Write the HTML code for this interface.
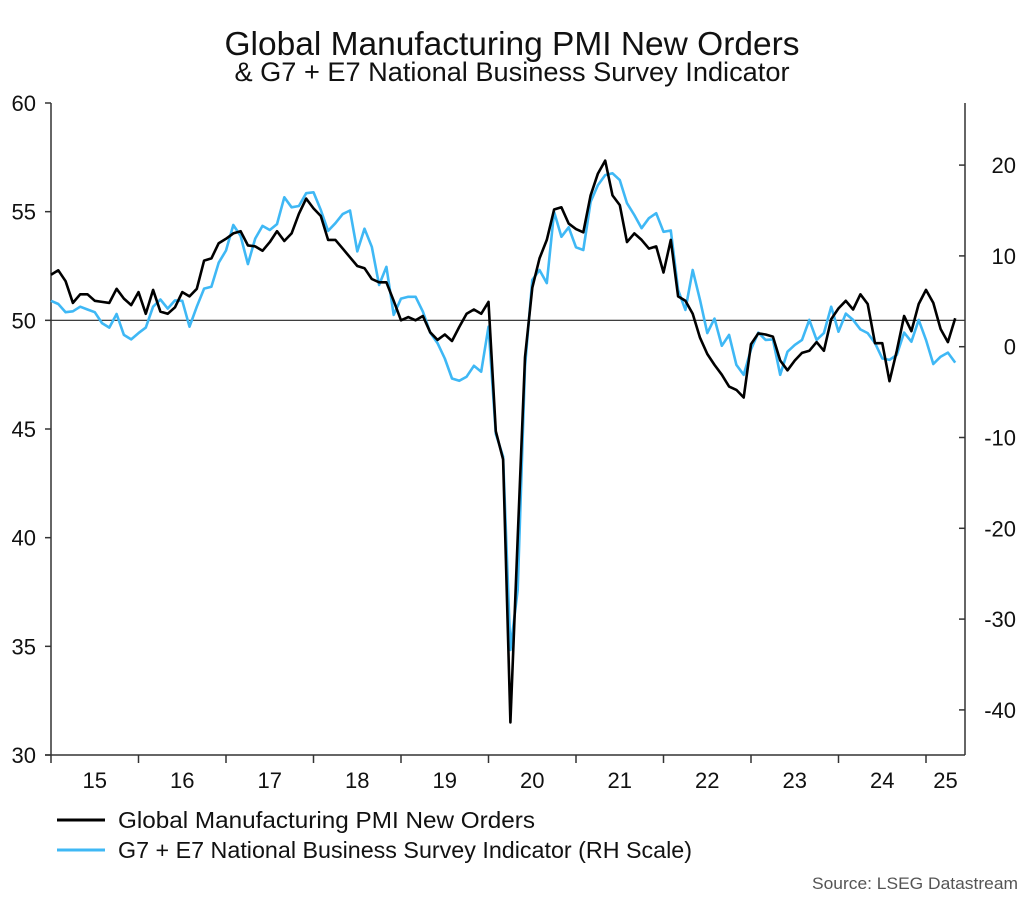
<!DOCTYPE html>
<html><head><meta charset="utf-8"><style>
body{margin:0;background:#fff;width:1024px;height:897px;overflow:hidden;font-family:"Liberation Sans",sans-serif}
</style></head><body>
<svg id="chart" width="1024" height="897" viewBox="0 0 1024 897" xmlns="http://www.w3.org/2000/svg" font-family="Liberation Sans, sans-serif">
<text x="512" y="55" text-anchor="middle" font-size="33" fill="#111" textLength="575" lengthAdjust="spacingAndGlyphs">Global Manufacturing PMI New Orders</text>
<text x="512" y="81" text-anchor="middle" font-size="27" fill="#111" textLength="555" lengthAdjust="spacingAndGlyphs">&amp; G7 + E7 National Business Survey Indicator</text>
<g id="axes"></g>
<g id="series"></g>
<line x1="57" y1="820" x2="105" y2="820" stroke="#000" stroke-width="3"/>
<text x="118" y="828" font-size="23" fill="#111" textLength="417" lengthAdjust="spacingAndGlyphs">Global Manufacturing PMI New Orders</text>
<line x1="57" y1="850" x2="105" y2="850" stroke="#3fb8f5" stroke-width="3"/>
<text x="118" y="858" font-size="23" fill="#111" textLength="574" lengthAdjust="spacingAndGlyphs">G7 + E7 National Business Survey Indicator (RH Scale)</text>
<text x="1018" y="889" text-anchor="end" font-size="17" fill="#555" textLength="206" lengthAdjust="spacingAndGlyphs">Source: LSEG Datastream</text>
</svg>
<script>
const years = ["15","16","17","18","19","20","21","22","23","24","25"];
const leftTicks = [30,35,40,45,50,55,60];
const rightTicks = [-40,-30,-20,-10,0,10,20];
const pmiNewOrders = [52.1,52.3,51.8,50.8,51.2,51.2,50.9,50.85,50.8,51.45,51.0,50.7,51.3,50.3,51.4,50.4,50.3,50.6,51.3,51.1,51.45,52.75,52.85,53.55,53.75,54.0,54.1,53.45,53.4,53.2,53.6,54.1,53.65,54.0,54.9,55.6,55.15,54.8,53.7,53.7,53.3,52.9,52.5,52.4,51.9,51.75,51.75,50.9,50.0,50.15,50.0,50.2,49.45,49.1,49.35,49.05,49.7,50.3,50.5,50.3,50.85,44.9,43.6,31.5,40.0,48.3,51.5,52.85,53.7,55.1,55.2,54.45,54.2,54.05,55.75,56.75,57.35,55.75,55.3,53.6,54.0,53.7,53.3,53.4,52.2,53.7,51.1,50.9,50.3,49.2,48.45,47.95,47.5,46.95,46.8,46.45,48.9,49.4,49.35,49.25,48.15,47.7,48.15,48.5,48.6,49.0,48.6,50.05,50.55,50.9,50.5,51.2,50.75,48.95,48.95,47.2,48.6,50.2,49.5,50.75,51.4,50.8,49.6,49.0,50.1];
const surveyIndicator = [5.05,4.7,3.8,3.9,4.4,4.1,3.8,2.6,2.1,3.6,1.3,0.8,1.5,2.1,4.4,5.2,4.2,5.1,5.05,2.2,4.4,6.4,6.6,9.25,10.6,13.4,12.2,9.1,11.9,13.3,12.85,13.5,16.45,15.35,15.5,16.9,17.0,15.05,12.75,13.6,14.6,15.0,10.5,13.0,11.0,6.8,8.8,3.5,5.3,5.5,5.5,3.85,1.55,0.4,-1.3,-3.5,-3.75,-3.3,-2.1,-2.75,2.2,-9.6,-12.1,-33.4,-26.8,-2.2,7.35,8.45,7.0,14.85,12.1,13.15,10.95,10.65,15.95,17.8,18.9,19.1,18.35,15.8,14.5,13.05,14.15,14.7,12.65,12.8,6.25,4.05,8.45,5.15,1.5,3.1,0.1,1.3,-2.0,-3.1,-0.3,1.55,0.75,0.8,-3.1,-0.55,0.2,0.75,2.95,0.75,1.5,4.4,1.65,3.65,2.95,1.9,1.5,0.4,-1.3,-1.45,-0.9,1.55,0.55,2.95,0.75,-1.9,-1.1,-0.65,-1.75];

const NS="http://www.w3.org/2000/svg";
const L=51,R=965,T=103,B=755;
const x0=51, monthW=87.5/12;
function xScale(i){return x0+i*monthW;}
function yLeft(v){return B-(v-30)*(B-T)/30;}
function yRight(v){return 346.7-v*9.08;}
function mk(tag,attrs,parent){const e=document.createElementNS(NS,tag);for(const k in attrs)e.setAttribute(k,attrs[k]);parent.appendChild(e);return e;}
const axes=document.getElementById('axes'), series=document.getElementById('series');

let e=mk('line',{x1:L,y1:yLeft(50),x2:R,y2:yLeft(50),stroke:'#222','stroke-width':1.2},axes);


e=mk('line',{x1:L,y1:T,x2:L,y2:B,stroke:'#333','stroke-width':1.5},axes);


e=mk('line',{x1:R,y1:T,x2:R,y2:B,stroke:'#333','stroke-width':1.5},axes);


e=mk('line',{x1:45,y1:B,x2:R,y2:B,stroke:'#333','stroke-width':1.5},axes);



leftTicks.forEach(v=>{
  const y=yLeft(v);
  mk('line',{x1:45,y1:y,x2:L,y2:y,stroke:'#333','stroke-width':1.5},axes);
  const t=mk('text',{x:36,y:y+8,'text-anchor':'end','font-size':22,fill:'#111'},axes);
  t.textContent=v;
  
  
});
rightTicks.forEach(v=>{
  const y=yRight(v);
  mk('line',{x1:R-6,y1:y,x2:R,y2:y,stroke:'#333','stroke-width':1.5},axes);
  const t=mk('text',{x:1016,y:y+8,'text-anchor':'end','font-size':22,fill:'#111'},axes);
  t.textContent=v;
  
  
});
years.forEach((yr,k)=>{
  const xt=xScale(k*12);
  mk('line',{x1:xt,y1:B,x2:xt,y2:B+8,stroke:'#333','stroke-width':1.5},axes);
  const xm=Math.min(xScale(k*12+6),(xt+R)/2);
  const t=mk('text',{x:xm,y:788,'text-anchor':'middle','font-size':22,fill:'#111'},axes);
  t.textContent=yr;
  
  
});

let p=mk('polyline',{points:surveyIndicator.map((v,i)=>xScale(i).toFixed(1)+','+yRight(v).toFixed(1)).join(' '),fill:'none',stroke:'#3fb8f5','stroke-width':2.6,'stroke-linejoin':'round'},series);


p=mk('polyline',{points:pmiNewOrders.map((v,i)=>xScale(i).toFixed(1)+','+yLeft(v).toFixed(1)).join(' '),fill:'none',stroke:'#000','stroke-width':2.6,'stroke-linejoin':'round'},series);


</script>
</body></html>
